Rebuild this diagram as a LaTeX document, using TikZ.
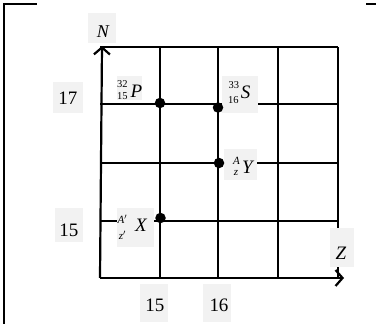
\documentclass[tikz,border=0pt]{standalone}
\usepackage{fontspec}
\setmainfont{Liberation Serif}
\usetikzlibrary{arrows.meta}
\begin{document}
\begin{tikzpicture}[x=1pt,y=-1pt,
  gridline/.style={line width=1.2pt},
  axisline/.style={line width=2.2pt,-{Straight Barb[length=7pt,width=16pt]}},
  frameline/.style={line width=2.2pt},
  lbox/.style={fill=black!5,draw=none,inner sep=0pt},
  big/.style={font=\fontsize{19}{19}\selectfont,inner sep=0pt},
  bigit/.style={font=\fontsize{19}{19}\selectfont\itshape,inner sep=0pt},
  smallnum/.style={font=\fontsize{10.5}{10.5}\selectfont,inner sep=0pt},
  smallit/.style={font=\fontsize{11}{11}\selectfont\itshape,inner sep=0pt},
  dot/.style={circle,fill=black,inner sep=0pt,minimum size=10.5pt}]
\useasboundingbox (0,0) rectangle (376,324);
% frame
\coordinate (f1) at (4,324);
\coordinate (f2) at (4,4);
\coordinate (f3) at (37,4);
\coordinate (f4) at (366,4);
\coordinate (f5) at (376,4);
\draw[frameline] (f1) -- (f2) -- (f3);
\draw[frameline] (f4) -- (f5);
% grid
\foreach \x in {160,218,278,338} \draw[gridline] (\x,47) -- (\x,278);
\foreach \y in {47,104,163,221} \draw[gridline] (100,\y) -- (338,\y);
% axes
\coordinate (O) at (100,278);
\coordinate (Ntip) at (102,46);
\coordinate (Ztip) at (344,278);
\draw[axisline] (O) -- (Ntip);
\draw[axisline] (O) -- (Ztip);
% label boxes
\node[lbox,minimum width=28pt,minimum height=30pt] (bN) at (102,28) {};
\node[lbox,minimum width=30pt,minimum height=31pt] (b17) at (68,97.5) {};
\node[lbox,minimum width=28pt,minimum height=34pt] (b15l) at (69,225) {};
\node[lbox,minimum width=28pt,minimum height=38pt] (b15b) at (154,303) {};
\node[lbox,minimum width=28pt,minimum height=38pt] (b16b) at (217,303) {};
\node[lbox,minimum width=24pt,minimum height=39pt] (bZ) at (342,247.5) {};
\node[lbox,minimum width=25pt,minimum height=24pt] (bP) at (129.5,88) {};
\node[lbox,minimum width=36pt,minimum height=37pt] (bS) at (240,94.5) {};
\node[lbox,minimum width=33pt,minimum height=31pt] (bY) at (240.5,164.5) {};
\node[lbox,minimum width=37pt,minimum height=39pt] (bX) at (135.5,227.5) {};
% axis labels
\node[font=\fontsize{18}{18}\selectfont\itshape,inner sep=0pt] (N) at (103,32) {N};
\node[bigit] (Z) at (341,253) {Z};
\node[big] (t17) at (68,98) {17};
\node[big] (t15l) at (69,230) {15};
\node[big] (t15b) at (155,305) {15};
\node[big] (t16b) at (219,305) {16};
% nuclide labels
\node[bigit] (P) at (136.5,91) {P};
\node[smallnum] (Psup) at (122.5,84) {32};
\node[smallnum] (Psub) at (122.5,96) {15};
\node[bigit] (S) at (245.5,92.5) {S};
\node[smallnum] (Ssup) at (234,85.5) {33};
\node[smallnum] (Ssub) at (233.5,100) {16};
\node[bigit] (Y) at (247.5,167) {Y};
\node[smallit] (Ysup) at (236.5,161) {A};
\node[smallit] (Ysub) at (236,172.5) {z};
\node[bigit] (X) at (141,225) {X};
\node[smallit] (Xsup) at (122.5,219) {A$'$};
\node[smallit] (Xsub) at (122.5,235) {z$'$};
% points
\node[dot] (dP) at (160,103) {};
\node[dot] (dS) at (218,107.5) {};
\node[dot] (dY) at (219,163) {};
\node[dot] (dX) at (160.5,218) {};
\end{tikzpicture}
\end{document}
